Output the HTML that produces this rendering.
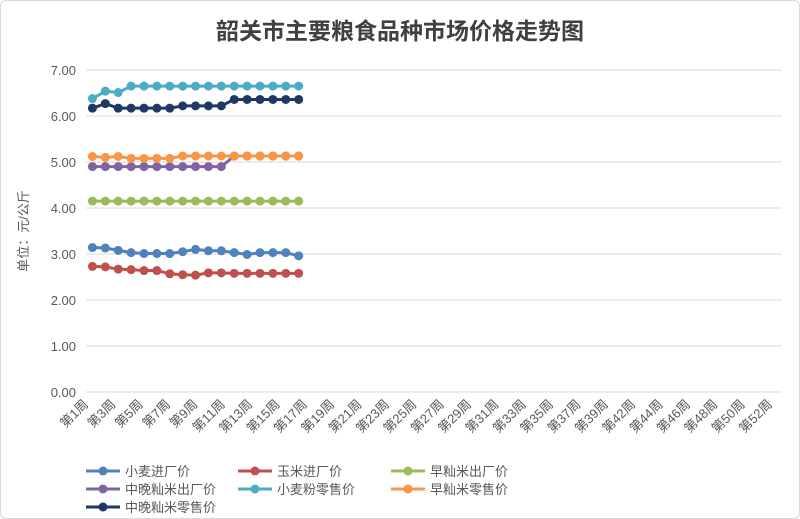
<!DOCTYPE html>
<html><head><meta charset="utf-8"><style>
body{margin:0;background:#fff;}
#c{position:relative;width:798px;height:517px;border:1px solid #d9d9d9;border-radius:6px;overflow:hidden;}
svg{font-family:"Liberation Sans","Noto Sans CJK SC",sans-serif;}
</style></head><body>
<div id="c">
<svg id="s" width="798" height="517"></svg>
</div>
<script>
const categoryCount=54;
const xLabels=[];for(let i=1;i<=39;i+=2)xLabels.push('第'+i+'周');for(let i=42;i<=52;i+=2)xLabels.push('第'+i+'周');
const yTicks=[0,1,2,3,4,5,6,7];
const seriesNames=['小麦进厂价','玉米进厂价','早籼米出厂价','中晚籼米出厂价','小麦粉零售价','早籼米零售价','中晚籼米零售价'];
const seriesColors=['#4f81bd','#c0504d','#9bbb59','#8064a2','#4bacc6','#f79646','#1f3864'];
const s0=[3.14,3.13,3.08,3.03,3.01,3.01,3.01,3.05,3.10,3.07,3.07,3.03,2.99,3.03,3.03,3.03,2.96];
const s1=[2.73,2.72,2.67,2.66,2.64,2.64,2.57,2.55,2.54,2.59,2.59,2.58,2.58,2.58,2.58,2.58,2.58];
const s2=[4.15,4.15,4.15,4.15,4.15,4.15,4.15,4.15,4.15,4.15,4.15,4.15,4.15,4.15,4.15,4.15,4.15];
const s3=[4.90,4.90,4.90,4.90,4.90,4.90,4.90,4.90,4.90,4.90,4.90,5.13,5.13,5.13,5.13,5.13,5.13];
const s4=[6.38,6.54,6.51,6.65,6.65,6.65,6.65,6.65,6.65,6.65,6.65,6.65,6.65,6.65,6.65,6.65,6.65];
const s5=[5.12,5.10,5.12,5.08,5.08,5.08,5.08,5.13,5.13,5.13,5.13,5.13,5.13,5.13,5.13,5.13,5.13];
const s6=[6.17,6.27,6.17,6.17,6.17,6.17,6.17,6.22,6.22,6.22,6.22,6.36,6.36,6.36,6.36,6.36,6.36];
const seriesValues=[s0,s1,s2,s3,s4,s5,s6];

const NS='http://www.w3.org/2000/svg',svg=document.getElementById('s');
const L=85,R=781,T=69,B=391,yMax=7;
const step=(R-L)/categoryCount;
const xS=i=>L+step*(i+0.5);
const yS=v=>B-(v/yMax)*(B-T);
const lblX=k=>88+k*(772-88)/(xLabels.length-1);
function mk(t,a,p){const e=document.createElementNS(NS,t);for(const k in a)e.setAttribute(k,a[k]);(p||svg).appendChild(e);return e;}

let e=mk('text',{x:399,y:38,'text-anchor':'middle','font-size':23,'font-weight':'bold',fill:'#404040'});e.textContent='韶关市主要粮食品种市场价格走势图';



yTicks.forEach(v=>{
 const g=mk('line',{x1:L,x2:R,y1:yS(v),y2:yS(v),stroke:'#d9d9d9','stroke-width':1});
 
 
 const t=mk('text',{x:75,y:yS(v)+5,'text-anchor':'end','font-size':13,fill:'#595959'});t.textContent=v.toFixed(2);
 
 
});
e=mk('text',{transform:'translate(27,230) rotate(-90)','text-anchor':'middle','font-size':13,fill:'#595959'});e.textContent='单位：元/公斤';



xLabels.forEach((c,k)=>{
 const x=lblX(k),y=404;
 const t=mk('text',{transform:`translate(${x},${y}) rotate(-45)`,'text-anchor':'end','font-size':13,fill:'#595959'});t.textContent=c;
 
 
});

seriesValues.forEach((vals,si)=>{
 const g=mk('g',{});
 
 
 const pl=mk('polyline',{points:vals.map((v,i)=>xS(i)+','+yS(v)).join(' '),fill:'none',stroke:seriesColors[si],'stroke-width':3},g);
 
 
 vals.forEach((v,i)=>{
  const c=mk('circle',{cx:xS(i),cy:yS(v),r:4.5,fill:seriesColors[si]},g);
  
  
 });
});

const lx=[85,237,390],ly=[470,488,506];
seriesNames.forEach((n,i)=>{
 const x=lx[i%3],y=ly[Math.floor(i/3)];
 const g=mk('g',{});
 
 
 mk('line',{x1:x,x2:x+34,y1:y,y2:y,stroke:seriesColors[i],'stroke-width':3},g);
 mk('circle',{cx:x+17,cy:y,r:4.5,fill:seriesColors[i]},g);
 const t=mk('text',{x:x+39,y:y+5,'font-size':13,fill:'#595959'},g);t.textContent=n;
});
</script>
</body></html>
